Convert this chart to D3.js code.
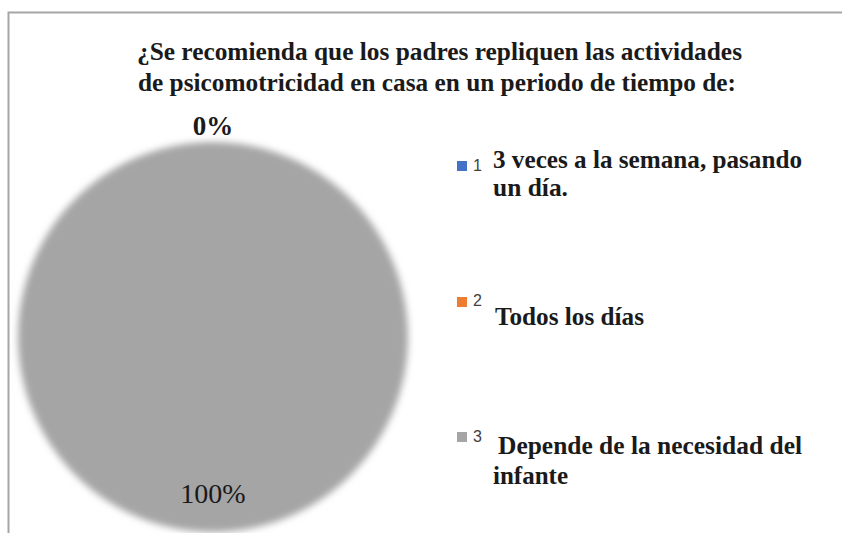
<!DOCTYPE html>
<html>
<head>
<meta charset="utf-8">
<script src="https://cdn.jsdelivr.net/npm/d3@7/dist/d3.min.js"></script>
<style>
  html, body { margin: 0; padding: 0; background: #ffffff; }
  svg { display: block; }
</style>
</head>
<body>
<script>
// ---- data ----
const categories = ["1", "2", "3"];
const legendLabels = [
  ["3 veces a la semana, pasando", "un día."],
  ["Todos los días"],
  ["Depende de la necesidad del", "infante"]
];
const values = [0, 0, 100];
const colors = ["#4472c4", "#ed7d31", "#a5a5a5"];
const titleLines = [
  "¿Se recomienda que los padres repliquen las actividades",
  "de psicomotricidad en casa en un periodo de tiempo de:"
];

const W = 842, H = 533;
const svg = d3.select("body").append("svg").attr("width", W).attr("height", H);

// soft edge filter
const defs = svg.append("defs");
const f = defs.append("filter").attr("id", "soft").attr("x", "-10%").attr("y", "-10%").attr("width", "120%").attr("height", "120%");
f.append("feGaussianBlur").attr("stdDeviation", 3.5);

// chart frame
svg.append("rect").attr("x", 8.5).attr("y", 12.5).attr("width", 900).attr("height", 600)
  .attr("fill", "#ffffff").attr("stroke", "#a6a6a6").attr("stroke-width", 2);

const serif = "'Liberation Serif', 'Times New Roman', serif";

function fitText(sel, width) {
  sel.each(function () {
    if (width > 0) d3.select(this).attr("textLength", width).attr("lengthAdjust", "spacingAndGlyphs");
  });
}

// title
const titleY = [60, 91];
const titleX = [[137, 742], [138, 736]];
titleLines.forEach((t, i) => {
  svg.append("text").attr("x", titleX[i][0]).attr("y", titleY[i])
    .attr("font-family", serif).attr("font-weight", "bold").attr("font-size", 26)
    .attr("fill", "#1a1a1a").text(t)
    .call(fitText, titleX[i][1] - titleX[i][0]);
});

// pie
const cx = 213, cy = 337, r = 195;
const pie = d3.pie().sort(null).value(d => d)(values);
const arc = d3.arc().innerRadius(0).outerRadius(r);
const g = svg.append("g").attr("transform", `translate(${cx},${cy})`);
g.append("g").attr("filter", "url(#soft)")
  .selectAll("path").data(pie).join("path")
  .attr("d", arc).attr("fill", (d, i) => colors[i]);

// data labels
const pct = d3.format(".0%");
const total = d3.sum(values);
const seen = new Set();
pie.forEach((d, i) => {
  const share = d.data / total;
  const mid = (d.startAngle + d.endAngle) / 2;
  const rr = share === 0 ? r + 16 : r * 0.8;
  const lx = Math.sin(mid) * rr, ly = -Math.cos(mid) * rr;
  const key = Math.round(lx) + "," + Math.round(ly);
  if (seen.has(key)) return;
  seen.add(key);
  g.append("text").attr("x", lx).attr("y", ly).attr("dy", "0.35em")
    .attr("text-anchor", "middle").attr("font-family", serif)
    .attr("font-weight", share === 0 ? "bold" : "normal")
    .attr("font-size", share === 0 ? 27 : 28)
    .attr("fill", "#1a1a1a").text(pct(share));
});

// legend
const legendSquareY = [161, 297, 432];
const legendNumY = [171, 306, 442];
const legendTextX = [[493, 493], [495], [498, 493]];
const legendTextY = [[168, 196], [325], [454, 484]];
const lineWidths = [[309, 75], [149], [304, 75]];
categories.forEach((c, i) => {
  svg.append("rect").attr("x", 457).attr("y", legendSquareY[i]).attr("width", 10).attr("height", 10)
    .attr("fill", colors[i]);
  svg.append("text").attr("x", 473).attr("y", legendNumY[i])
    .attr("font-family", "'Liberation Sans', Arial, sans-serif").attr("font-size", 16)
    .attr("fill", "#404040").text(c);
  legendLabels[i].forEach((t, j) => {
    svg.append("text").attr("x", legendTextX[i][j]).attr("y", legendTextY[i][j])
      .attr("font-family", serif).attr("font-weight", "bold").attr("font-size", 25)
      .attr("fill", "#1a1a1a").text(t)
      .call(fitText, lineWidths[i][j]);
  });
});
</script>
</body>
</html>
